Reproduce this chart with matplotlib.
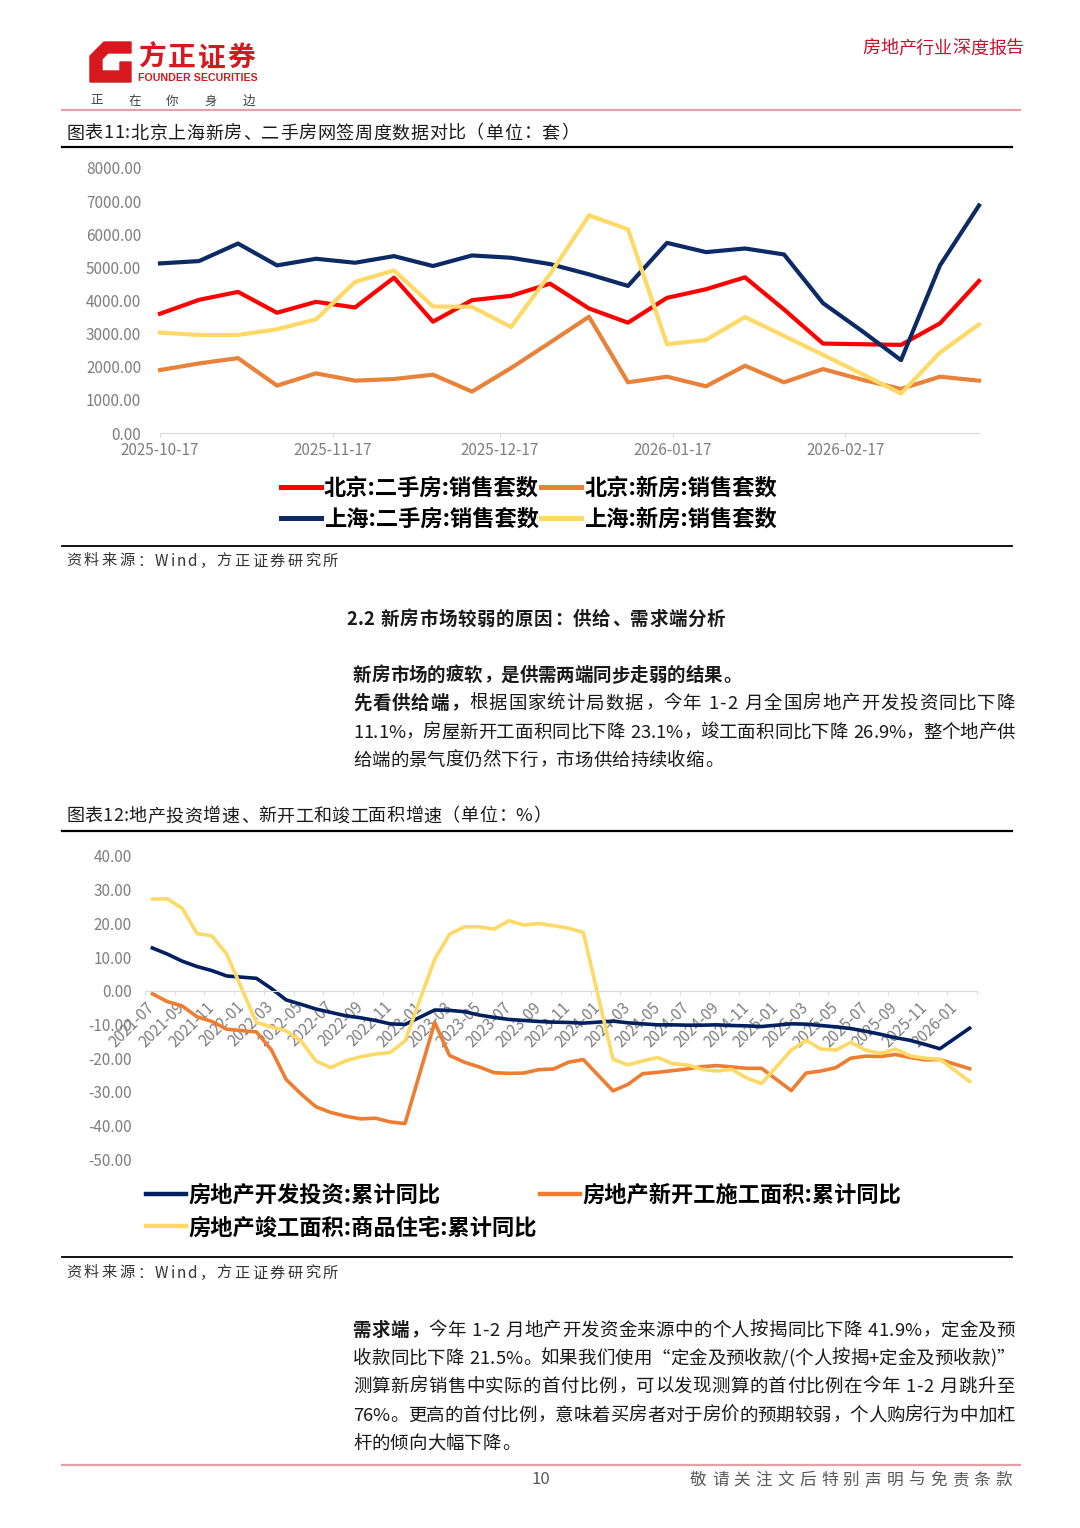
import numpy as np
import pandas as pd
import matplotlib
matplotlib.use("Agg")
import matplotlib.pyplot as plt
from matplotlib.lines import Line2D
from matplotlib.patches import Polygon
from matplotlib.ticker import FormatStrFormatter
from matplotlib.font_manager import FontProperties
import matplotlib.dates as mdates

CJK = ['Noto Sans CJK SC', 'DejaVu Sans']
plt.rcParams['font.family'] = CJK
plt.rcParams['axes.unicode_minus'] = False

# %% chart 11: weekly signed units, Beijing / Shanghai
week_dates = ['2025-10-17', '2025-10-24', '2025-10-31', '2025-11-07', '2025-11-14',
              '2025-11-21', '2025-11-28', '2025-12-05', '2025-12-12', '2025-12-19',
              '2025-12-26', '2026-01-02', '2026-01-09', '2026-01-16', '2026-01-23',
              '2026-01-30', '2026-02-06', '2026-02-13', '2026-02-20', '2026-02-27',
              '2026-03-06', '2026-03-13']
bj_second = [3600, 4020, 4260, 3630, 3960, 3790, 4690, 3360, 4010, 4140, 4510,
             3760, 3330, 4080, 4340, 4700, 3730, 2700, 2680, 2660, 3310, 4590]
bj_new = [1900, 2100, 2260, 1430, 1800, 1580, 1630, 1760, 1250, 1960, 2730,
          3510, 1530, 1700, 1410, 2030, 1530, 1930, 1610, 1330, 1700, 1580]
sh_second = [5120, 5190, 5720, 5060, 5260, 5140, 5340, 5040, 5360, 5290, 5100,
             4790, 4440, 5740, 5460, 5570, 5390, 3920, 3080, 2200, 5060, 6870]
sh_new = [3030, 2960, 2960, 3130, 3430, 4560, 4910, 3820, 3810, 3200, 4800,
          6570, 6150, 2680, 2810, 3500, 2930, 2360, 1780, 1190, 2430, 3280]
names1 = ['北京:二手房:销售套数', '北京:新房:销售套数', '上海:二手房:销售套数', '上海:新房:销售套数']
colors1 = ['#ff0000', '#e8823a', '#0b2a66', '#ffd966']
date_ticks = ['2025-10-17', '2025-11-17', '2025-12-17', '2026-01-17', '2026-02-17']

# %% chart 12: cumulative YoY (%), January not published
months = pd.period_range('2021-07', '2026-02', freq='M').strftime('%Y-%m').tolist()
invest_yoy = [12.7, 10.9, 8.8, 7.2, 6.0, 4.4,
              None, 3.7, 0.7, -2.7, -4.0, -5.4, -6.4, -7.4, -8.0, -8.8, -9.8, -10.0,
              None, -5.7, -5.8, -6.2, -7.2, -7.9, -8.5, -8.8, -9.1, -9.3, -9.4, -9.6,
              None, -9.0, -9.5, -9.8, -10.1, -10.1, -10.2, -10.2, -10.1, -10.3, -10.4, -10.6,
              None, -9.8, -9.9, -10.3, -10.7, -11.2, -12.0, -12.9, -13.9, -14.7, -15.9, -17.2,
              None, -11.1]
starts_yoy = [-0.9, -3.2, -4.5, -7.7, -9.1, -11.4,
              None, -12.2, -17.5, -26.3, -30.6, -34.4, -36.1, -37.2, -38.0, -37.8, -38.9, -39.4,
              None, -9.4, -19.2, -21.2, -22.6, -24.3, -24.5, -24.4, -23.4, -23.2, -21.2, -20.4,
              None, -29.7, -27.8, -24.6, -24.2, -23.7, -23.2, -22.5, -22.2, -22.6, -23.0, -23.0,
              None, -29.6, -24.4, -23.8, -22.8, -20.0, -19.4, -19.5, -18.9, -19.8, -20.5, -20.4,
              None, -23.1]
completed_yoy = [27.2, 27.3, 24.5, 17.0, 16.3, 10.9,
                 None, -9.4, -10.7, -11.9, -14.9, -20.8, -22.8, -20.8, -19.6, -18.8, -18.3, -14.9,
                 None, 9.4, 16.8, 19.0, 19.0, 18.3, 20.8, 19.5, 20.0, 19.3, 18.6, 17.3,
                 None, -20.3, -22.0, -20.8, -19.8, -21.6, -22.0, -23.3, -23.8, -23.3, -25.9, -27.5,
                 None, -17.6, -14.7, -17.3, -17.6, -15.3, -17.6, -18.6, -17.3, -19.3, -20.0, -20.3,
                 None, -26.9]
names2 = ['房地产开发投资:累计同比', '房地产新开工施工面积:累计同比', '房地产竣工面积:商品住宅:累计同比']
colors2 = ['#002060', '#ed7d31', '#ffd966']

W, H = 1080, 1528
fig = plt.figure(figsize=(W / 100, H / 100), dpi=100)
GRAY = '#7f7f7f'


def fx(x):
    return x / W


def fy(y):
    return 1 - y / H


def em_width(c):
    if c == ' ':
        return 0.3
    if c in '“”':
        return 1.0
    if ord(c) >= 0x2E80:
        return 1.0
    if c in '.:,;iIl':
        return 0.28
    if c in '-()/':
        return 0.36
    if c == '%':
        return 0.88
    if c == 'W':
        return 0.9
    if c.isupper():
        return 0.65
    return 0.55


def put_text(x, y, parts, size, width=None, color='#1a1a1a'):
    # lay characters out one by one so a line can be justified like the report
    em = size * 100 / 72
    chars = [(c, bold) for text, bold in parts for c in text]
    ws = [em_width(c) * em for c, _ in chars]
    gap = 0.0
    if width is not None and len(chars) > 1:
        gap = (width - sum(ws)) / (len(chars) - 1)
    base = fy(y + 0.36 * em)
    for (c, bold), w in zip(chars, ws):
        kw = dict(fontsize=size, color=color, va='baseline', family=CJK,
                  fontweight='bold' if bold else 'normal')
        if c == ' ':
            pass
        elif c in '，。、：；':
            fig.text(fx(x + 0.07 * em), base, c, ha='left', **kw)
        elif c == '（':
            fig.text(fx(x + w - 0.05 * em), base, c, ha='right', **kw)
        elif c == '）':
            fig.text(fx(x + 0.05 * em), base, c, ha='left', **kw)
        else:
            fig.text(fx(x + w / 2), base, c, ha='center', **kw)
        x += w + gap


def hline(y, x0, x1, color, lw):
    fig.add_artist(Line2D([fx(x0), fx(x1)], [fy(y), fy(y)], color=color, lw=lw))


# header
RED = '#d7191f'
logo = [(90, 56), (104, 42), (131, 42), (131, 53), (108, 53), (102, 59), (102, 71),
        (120, 71), (120, 62), (131, 62), (131, 82), (90, 82)]
fig.add_artist(Polygon([(fx(a), fy(b)) for a, b in logo], closed=True,
                       transform=fig.transFigure, color=RED))
put_text(138, 56, [('方正证券', True)], 20, width=117, color=RED)
fig.text(fx(138), fy(78), 'FOUNDER SECURITIES', fontsize=7.7, fontweight='bold',
         family='Liberation Sans', color=RED, ha='left', va='center')
put_text(90, 100, [('正在你身边', False)], 9, width=165, color='#404040')
put_text(862, 47, [('房地产行业深度报告', False)], 13, width=162, color='#c8102e')
hline(110, 62, 1020, '#e3a0a6', 1.6)

# chart 11
put_text(66, 132, [('图表11:北京上海新房、二手房网签周度数据对比（单位：套）', False)], 13, width=512)
hline(147, 62, 1012, '#000000', 1.6)

dates = pd.to_datetime(week_dates)
ax1 = fig.add_axes([fx(160), fy(433), (979 - 160) / W, (433 - 168) / H])
lines1 = []
for vals, name, col in zip([bj_second, bj_new, sh_second, sh_new], names1, colors1):
    ln, = ax1.plot(dates, vals, color=col, lw=3.0, label=name, clip_on=False,
                   solid_joinstyle='round')
    lines1.append(ln)
ax1.set_xlim(dates[0], dates[-1])
ax1.set_ylim(0, 8000)
ax1.set_yticks(np.arange(0, 8001, 1000))
ax1.yaxis.set_major_formatter(FormatStrFormatter('%.2f'))
ax1.set_xticks(pd.to_datetime(date_ticks))
ax1.xaxis.set_major_formatter(mdates.DateFormatter('%Y-%m-%d'))
for s in ['top', 'right', 'left']:
    ax1.spines[s].set_visible(False)
ax1.spines['bottom'].set_color('#d9d9d9')
ax1.tick_params(axis='y', length=0, pad=13.5, labelsize=11, labelcolor=GRAY)
ax1.tick_params(axis='x', length=3, pad=3.5, color='#d9d9d9', labelsize=11, labelcolor=GRAY)
ax1.set_facecolor('none')

leg_font = FontProperties(family=CJK, weight='bold', size=16)
order = [0, 2, 1, 3]
leg1 = ax1.legend([lines1[i] for i in order], [names1[i] for i in order], ncol=2,
                  loc='center', bbox_to_anchor=(fx(529), fy(503.5)),
                  bbox_transform=fig.transFigure, frameon=False, prop=leg_font,
                  handlelength=1.8, handletextpad=0.12, columnspacing=0.12,
                  labelspacing=0.38, borderpad=0, borderaxespad=0)
for ln in leg1.get_lines():
    ln.set_linewidth(3.6)

hline(546, 62, 1012, '#000000', 1.3)
put_text(66, 560, [('资料来源：Wind，方正证券研究所', False)], 11, width=272, color='#333333')

# text block 1
put_text(347, 618, [('2.2 新房市场较弱的原因：供给、需求端分析', True)], 13.3, width=378)
put_text(353, 674, [('新房市场的疲软，是供需两端同步走弱的结果。', True)], 13.3)
put_text(353, 702, [('先看供给端，', True), ('根据国家统计局数据，今年 1-2 月全国房地产开发投资同比下降', False)],
         13.3, width=662)
put_text(353, 731, [('11.1%，房屋新开工面积同比下降 23.1%，竣工面积同比下降 26.9%，整个地产供', False)],
         13.3, width=662)
put_text(353, 759, [('给端的景气度仍然下行，市场供给持续收缩。', False)], 13.3)

# chart 12
put_text(66, 815, [('图表12:地产投资增速、新开工和竣工面积增速（单位：%）', False)], 13, width=484)
hline(831, 62, 1012, '#000000', 1.6)

ax2 = fig.add_axes([fx(145), fy(1159.3), (977 - 145) / W, (1159.3 - 856) / H])
# the category axis crosses at zero; move the spine before styling the ticks
for s in ['top', 'right', 'left']:
    ax2.spines[s].set_visible(False)
ax2.spines['bottom'].set_position(('data', 0))
ax2.spines['bottom'].set_color('#d9d9d9')
lines2 = []
for vals, name, col in zip([invest_yoy, starts_yoy, completed_yoy], names2, colors2):
    idx = [i for i, v in enumerate(vals) if v is not None]
    ln, = ax2.plot(idx, [vals[i] for i in idx], color=col, lw=2.6, label=name,
                   solid_joinstyle='round')
    lines2.append(ln)
ax2.set_xlim(-0.5, len(months) - 0.5)
ax2.set_ylim(-50, 40)
ax2.set_yticks(np.arange(-50, 41, 10))
ax2.yaxis.set_major_formatter(FormatStrFormatter('%.2f'))
ax2.set_xticks(range(0, len(months), 2))
ax2.set_xticklabels(months[::2])
ax2.set_xticks(np.arange(-0.5, len(months), 2), minor=True)
ax2.tick_params(axis='y', length=0, pad=9.5, labelsize=11, labelcolor=GRAY)
ax2.tick_params(axis='x', which='major', length=0, pad=10, labelsize=11, labelcolor=GRAY)
ax2.tick_params(axis='x', which='minor', length=3, color='#d9d9d9')
for lbl in ax2.get_xticklabels():
    lbl.set(rotation=45, ha='right', va='center', rotation_mode='anchor')
ax2.set_facecolor('none')

order2 = [0, 2, 1]
leg2 = ax2.legend([lines2[i] for i in order2], [names2[i] for i in order2], ncol=2,
                  loc='center', bbox_to_anchor=(fx(523.5), fy(1211.5)),
                  bbox_transform=fig.transFigure, frameon=False, prop=leg_font,
                  handlelength=1.8, handletextpad=0.12, columnspacing=0.12,
                  labelspacing=0.42, borderpad=0, borderaxespad=0)
for ln in leg2.get_lines():
    ln.set_linewidth(3.2)

hline(1257, 62, 1012, '#000000', 1.3)
put_text(66, 1272, [('资料来源：Wind，方正证券研究所', False)], 11, width=272, color='#333333')

# text block 2
put_text(353, 1329, [('需求端，', True), ('今年 1-2 月地产开发资金来源中的个人按揭同比下降 41.9%，定金及预', False)],
         13.3, width=662)
put_text(353, 1357, [('收款同比下降 21.5%。如果我们使用“定金及预收款/(个人按揭+定金及预收款)”', False)],
         13.3, width=662)
put_text(353, 1385, [('测算新房销售中实际的首付比例，可以发现测算的首付比例在今年 1-2 月跳升至', False)],
         13.3, width=662)
put_text(353, 1414, [('76%。更高的首付比例，意味着买房者对于房价的预期较弱，个人购房行为中加杠', False)],
         13.3, width=662)
put_text(353, 1442, [('杆的倾向大幅下降。', False)], 13.3)

# footer
hline(1465, 62, 1020, '#e3a0a6', 1.6)
fig.text(fx(541), fy(1479), '10', fontsize=12, color='#595959', ha='center', va='center')
put_text(690, 1479, [('敬请关注文后特别声明与免责条款', False)], 12, width=322, color='#595959')

fig.savefig('out.png', dpi=100)
